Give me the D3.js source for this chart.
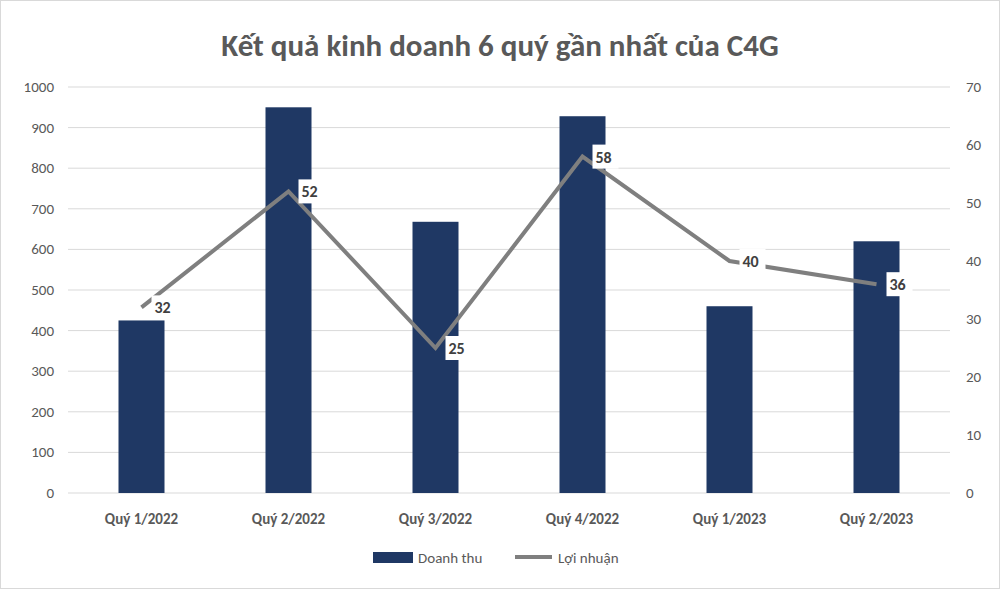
<!DOCTYPE html>
<html><head><meta charset="utf-8">
<script src="https://cdn.jsdelivr.net/npm/d3@7"></script>
<style>body{margin:0;background:#fff;font-family:Calibri,Carlito,"Open Sans",sans-serif}</style>
</head><body>
<script>
var categories = ["Quý 1/2022", "Quý 2/2022", "Quý 3/2022", "Quý 4/2022", "Quý 1/2023", "Quý 2/2023"];
var revenue = [425, 950, 668, 928, 460, 620];
var profit = [32, 52, 25, 58, 40, 36];
var leftTicks = [0, 100, 200, 300, 400, 500, 600, 700, 800, 900, 1000];
var rightTicks = [0, 10, 20, 30, 40, 50, 60, 70];

var W = 1000, H = 589;
var svg = d3.select("body").append("svg").attr("width", W).attr("height", H);
svg.append("rect").attr("x", 0.5).attr("y", 0.5).attr("width", W - 1).attr("height", H - 1)
    .attr("fill", "#fff").attr("stroke", "#d9d9d9");

svg.append("text").attr("x", W / 2).attr("y", 56).attr("text-anchor", "middle")
    .attr("font-size", 31).attr("font-weight", "bold").attr("fill", "#595959")
    .text("Kết quả kinh doanh 6 quý gần nhất của C4G");

var x = d3.scaleBand().domain(categories).range([68, 950]);
var yL = d3.scaleLinear().domain([0, 1000]).range([493, 87]);
var yR = d3.scaleLinear().domain([0, 70]).range([493, 87]);

svg.selectAll(".grid").data(leftTicks).enter().append("line")
    .attr("x1", 68).attr("x2", 950)
    .attr("y1", function (d) { return yL(d); }).attr("y2", function (d) { return yL(d); })
    .attr("stroke", "#d9d9d9");

svg.selectAll(".lt").data(leftTicks).enter().append("text")
    .attr("x", 54).attr("y", function (d) { return yL(d) + 5; })
    .attr("text-anchor", "end").attr("font-size", 15).attr("fill", "#595959")
    .text(function (d) { return d; });
svg.selectAll(".rt").data(rightTicks).enter().append("text")
    .attr("x", 966).attr("y", function (d) { return yR(d) + 5; })
    .attr("text-anchor", "start").attr("font-size", 15).attr("fill", "#595959")
    .text(function (d) { return d; });

svg.selectAll(".bar").data(revenue).enter().append("rect")
    .attr("x", function (d, i) { return x(categories[i]) + x.bandwidth() / 2 - 23; })
    .attr("width", 46)
    .attr("y", function (d) { return yL(d); })
    .attr("height", function (d) { return yL(0) - yL(d); })
    .attr("fill", "#1f3864");

svg.selectAll(".cat").data(categories).enter().append("text")
    .attr("x", function (d) { return x(d) + x.bandwidth() / 2; }).attr("y", 524)
    .attr("text-anchor", "middle").attr("font-size", 15).attr("font-weight", "bold").attr("fill", "#595959")
    .text(function (d) { return d; });

var line = d3.line()
    .x(function (d, i) { return x(categories[i]) + x.bandwidth() / 2; })
    .y(function (d) { return yR(d); });
svg.append("path").datum(profit).attr("d", line)
    .attr("fill", "none").attr("stroke", "#7f7f7f").attr("stroke-width", 4);

var lab = svg.selectAll(".lab").data(profit).enter().append("g")
    .attr("transform", function (d, i) {
        return "translate(" + (x(categories[i]) + x.bandwidth() / 2 + 10) + "," + yR(d) + ")";
    });
lab.append("rect").attr("x", 0).attr("y", -12).attr("width", 26).attr("height", 24).attr("fill", "#fff");
lab.append("text").attr("x", 3).attr("y", 6).attr("font-size", 16).attr("font-weight", "bold")
    .attr("fill", "#404040").text(function (d) { return d; });

svg.append("rect").attr("x", 373).attr("y", 552).attr("width", 40).attr("height", 11).attr("fill", "#1f3864");
svg.append("text").attr("x", 418).attr("y", 563).attr("font-size", 15).attr("fill", "#595959").text("Doanh thu");
svg.append("line").attr("x1", 515).attr("x2", 552).attr("y1", 557).attr("y2", 557)
    .attr("stroke", "#7f7f7f").attr("stroke-width", 4);
svg.append("text").attr("x", 558).attr("y", 563).attr("font-size", 15).attr("fill", "#595959").text("Lợi nhuận");
</script>
</body></html>
